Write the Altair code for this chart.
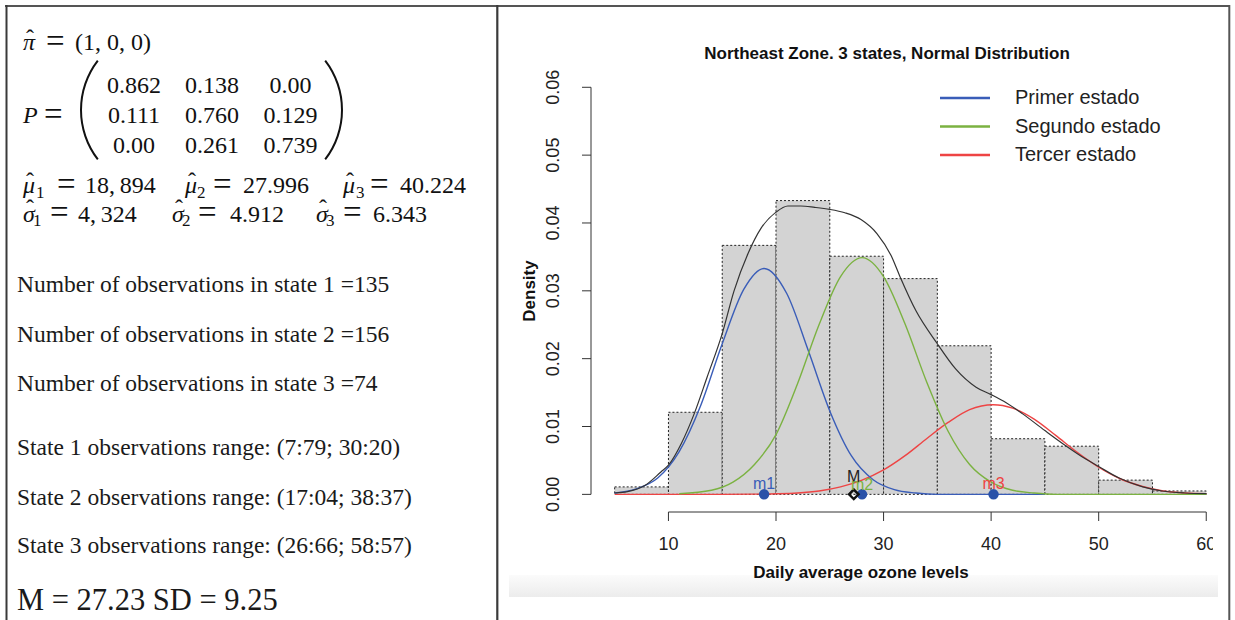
import altair as alt
import pandas as pd

# ---------------- data ----------------
pi_hat = [1, 0, 0]
P_rows = [["0.862", "0.138", "0.00"],
          ["0.111", "0.760", "0.129"],
          ["0.00", "0.261", "0.739"]]
mu_txt = ["18,\u2009894", "27.996", "40.224"]
sigma_txt = ["4,\u2009324", "4.912", "6.343"]
mu = [18.894, 27.996, 40.224]
n_obs = [135, 156, 74]
obs_ranges = ["(7:79; 30:20)", "(17:04; 38:37)", "(26:66; 58:57)"]
M_val, SD_val = 27.23, 9.25

bin_start = [5, 10, 15, 20, 25, 30, 35, 40, 45, 50, 55]
bin_end = [10, 15, 20, 25, 30, 35, 40, 45, 50, 55, 60]
density = [0.0011, 0.0121, 0.0367, 0.0433, 0.0351, 0.0318, 0.0219, 0.0082, 0.0071, 0.0021, 0.0005]

kde_x = [5.0, 6.2, 7.8, 9.3, 10.0, 11.2, 12.4, 13.6, 15.0, 16.1, 17.4, 18.6, 20.0, 21.1, 22.3,
         23.6, 25.0, 26.4, 27.9, 29.4, 30.7, 31.5, 33.0, 35.0, 36.7, 38.6, 40.0, 41.4, 42.9,
         45.0, 47.0, 48.8, 50.0, 51.9, 54.1, 55.9, 58.0, 60.0]
kde_y = [0.0002, 0.0004, 0.0013, 0.0033, 0.0043, 0.0075, 0.0119, 0.0173, 0.0237, 0.0300, 0.0355,
         0.0392, 0.0416, 0.0425, 0.0425, 0.0423, 0.0420, 0.0415, 0.0405, 0.0384, 0.0352, 0.0322,
         0.0271, 0.0222, 0.0185, 0.0158, 0.0147, 0.0135, 0.0119, 0.0094, 0.0071, 0.0052, 0.0041,
         0.0024, 0.0011, 0.0005, 0.0002, 0.0001]

s1_x = [5, 7, 9, 11, 13, 15, 17, 18.9, 21, 23, 25, 27, 29, 31, 33, 35, 40, 45]
s1_y = [0.0002, 0.0008, 0.0024, 0.0063, 0.0131, 0.0222, 0.0302, 0.0333, 0.0296, 0.0212, 0.0123,
        0.0057, 0.0022, 0.0007, 0.0002, 0.0000, 0.0, 0.0]
s2_x = [11, 14, 16, 18, 20, 22, 24, 26, 28, 30, 32, 34, 36, 38, 40, 42, 44, 46, 50, 60]
s2_y = [0.0001, 0.0006, 0.0018, 0.0044, 0.0088, 0.0163, 0.0250, 0.0321, 0.0349, 0.0321, 0.0251,
        0.0166, 0.0093, 0.0044, 0.0018, 0.0006, 0.0002, 0.0, 0.0, 0.0]
s3_x = [5, 10, 15, 18, 20, 22, 24, 26, 28, 30, 32, 34, 36, 38, 40.2, 42, 44, 46, 48, 50, 52, 54,
        56, 58, 60]
s3_y = [0.0, 0.0, 0.0, 0.00003, 0.00008, 0.0002, 0.0005, 0.0011, 0.0021, 0.0036, 0.0057, 0.0082,
        0.0106, 0.0125, 0.0132, 0.0127, 0.0111, 0.0087, 0.0062, 0.0040, 0.0023, 0.0012, 0.0005,
        0.0002, 0.0001]

legend_labels = ["Primer estado", "Segundo estado", "Tercer estado"]
mean_labels = ["m1", "m2", "m3"]
x_ticks = [10, 20, 30, 40, 50, 60]
y_ticks = [0, 0.01, 0.02, 0.03, 0.04, 0.05, 0.06]

# ---------------- layout / style ----------------
OX, OY = 591, 71          # page position of plot-area origin
W, H = 626, 441
XS = alt.Scale(domain=[2.8, 61.0], nice=False, zero=False)
YS = alt.Scale(domain=[-0.0026, 0.0624], nice=False, zero=False)
SERIF = "Liberation Serif"
SANS = "Liberation Sans"
BLUE, GREEN, RED, PT = "#3A5DB8", "#7BB241", "#EE4444", "#2A52A8"
INK = "#111111"
AXC = "#333333"


def X(f):
    return alt.X(f, scale=XS, axis=None)


def Y(f):
    return alt.Y(f, scale=YS, axis=None)


def txt(s, px, py, size, font=SERIF, style="normal", weight="normal", align="left",
        baseline="alphabetic", color=INK, angle=0):
    mk = dict(font=font, fontSize=size, fontStyle=style, fontWeight=weight, align=align,
              baseline=baseline, color=color)
    if angle:
        mk["angle"] = angle
    return alt.Chart(pd.DataFrame({"t": [s]})).mark_text(**mk).encode(
        text="t:N", x=alt.value(px - OX), y=alt.value(py - OY))


def eq(px, py):
    # wide, thin equals sign as in the TeX rendering
    return txt("=", px, py + 1.5, 33)


def prule(x1, y1, x2, y2, color, width):
    return alt.Chart(pd.DataFrame({"k": [0]})).mark_rule(color=color, strokeWidth=width).encode(
        x=alt.value(x1 - OX), x2=alt.value(x2 - OX), y=alt.value(y1 - OY), y2=alt.value(y2 - OY))


def paren(cx, cy, th0, th1):
    return alt.Chart(pd.DataFrame({"k": [0]})).mark_arc(
        radius=82, radius2=80, theta=th0, theta2=th1, color=INK).encode(
        x=alt.value(cx - OX), y=alt.value(cy - OY))


layers = []

# background band at bottom of the R screenshot
layers.append(alt.Chart(pd.DataFrame({"k": [0]})).mark_rect(
    color=alt.Gradient(gradient="linear",
                       stops=[alt.GradientStop(color="#fbfbfb", offset=0),
                              alt.GradientStop(color="#ececec", offset=1)],
                       x1=0, x2=0, y1=0, y2=1)).encode(
    x=alt.value(509 - OX), x2=alt.value(1218 - OX), y=alt.value(575 - OY), y2=alt.value(597 - OY)))

# table borders
BC = "#3a3a3a"
layers += [prule(5, 6, 1230, 6, "#555555", 2),
           prule(6.5, 5, 6.5, 620, BC, 2),
           prule(497.3, 5, 497.3, 620, BC, 2.2),
           prule(1229.3, 5, 1229.3, 620, "#555555", 2)]

# ---------------- left panel ----------------
layers += [txt("\u03c0", 23, 50, 24, style="italic"),
           txt("\u02c6", 30, 46, 24, align="center"),
           eq(46, 50),
           txt("(" + ", ".join(str(v) for v in pi_hat) + ")", 75, 50, 24)]
layers += [txt("P", 23, 123.3, 24, style="italic"),
           eq(44, 123.3)]
col_c = [134, 212, 290.5]
row_b = [92.7, 123.3, 153.3]
for r, row in enumerate(P_rows):
    for c, val in enumerate(row):
        layers.append(txt(val, col_c[c], row_b[r], 24, align="center"))
layers += [paren(162, 110, 4.056, 5.368), paren(261, 110, 0.915, 2.227)]

mu_pos = [(23, 36, 57, 85), (185, 197, 213, 243), (343, 356, 370, 400)]
sg_pos = [(23, 33, 50, 78), (172, 182, 198, 230), (316, 326, 343, 373)]
for i in range(3):
    sx, bx, ex, nx = mu_pos[i]
    layers += [txt("\u03bc", sx, 193.3, 24, style="italic"),
               txt("\u02c6", sx + 7, 189, 24, align="center"),
               txt(str(i + 1), bx, 197.5, 17),
               eq(ex, 193.3),
               txt(mu_txt[i], nx, 193.3, 24)]
    sx, bx, ex, nx = sg_pos[i]
    layers += [txt("\u03c3", sx, 221.7, 24, style="italic"),
               txt("\u02c6", sx + 7, 216, 24, align="center"),
               txt(str(i + 1), bx, 226, 17),
               eq(ex, 221.7),
               txt(sigma_txt[i], nx, 221.7, 24)]

LT = "#1a1a1a"
for i, yb in enumerate([291.7, 341.7, 390.7]):
    layers.append(txt(f"Number of observations in state {i + 1} ={n_obs[i]}", 17, yb, 23.5, color=LT))
for i, yb in enumerate([455, 505, 553.3]):
    layers.append(txt(f"State {i + 1} observations range: {obs_ranges[i]}", 17, yb, 23.5, color=LT))
layers.append(txt(f"M = {M_val} SD = {SD_val}", 17, 610, 30.5, color=LT))

# ---------------- right panel: R plot ----------------
hist_df = pd.DataFrame({"start": bin_start, "end": bin_end, "density": density})
layers.append(alt.Chart(hist_df).mark_rect(fill="#D3D3D3", stroke="#222222", strokeDash=[2, 2],
                                           strokeWidth=1).encode(
    x=X("start:Q"), x2="end:Q", y=Y("density:Q"), y2=alt.datum(0)))


def curve(xs, ys, color, width):
    return alt.Chart(pd.DataFrame({"x": xs, "y": ys})).mark_line(
        color=color, strokeWidth=width, interpolate="monotone").encode(x=X("x:Q"), y=Y("y:Q"))


layers += [curve(s3_x, s3_y, RED, 1.4), curve(s1_x, s1_y, BLUE, 1.4),
           curve(s2_x, s2_y, GREEN, 1.4), curve(kde_x, kde_y, "#333333", 1.2)]

# R-style axes drawn from the tick arrays through the scales
xt = pd.DataFrame({"v": x_ticks})
yt = pd.DataFrame({"v": y_ticks})
layers += [
    alt.Chart(pd.DataFrame({"a": [x_ticks[0]], "b": [x_ticks[-1]]})).mark_rule(
        color=AXC, strokeWidth=1).encode(x=X("a:Q"), x2="b:Q", y=alt.value(H)),
    alt.Chart(xt).mark_rule(color=AXC, strokeWidth=1).encode(
        x=X("v:Q"), y=alt.value(H), y2=alt.value(H + 9)),
    alt.Chart(xt).mark_text(font=SANS, fontSize=18, color="#222222", baseline="middle",
                            align="center").encode(
        x=X("v:Q"), y=alt.value(545 - OY), text=alt.Text("v:Q", format="d")),
    alt.Chart(pd.DataFrame({"a": [y_ticks[0]], "b": [y_ticks[-1]]})).mark_rule(
        color=AXC, strokeWidth=1).encode(y=Y("a:Q"), y2="b:Q", x=alt.value(0)),
    alt.Chart(yt).mark_rule(color=AXC, strokeWidth=1).encode(
        y=Y("v:Q"), x=alt.value(0), x2=alt.value(-9)),
    alt.Chart(yt).mark_text(font=SANS, fontSize=18, color="#222222", baseline="middle",
                            align="center", angle=270).encode(
        y=Y("v:Q"), x=alt.value(554 - OX), text=alt.Text("v:Q", format=".2f")),
]

# means
pts = pd.DataFrame({"x": mu, "y": [0, 0, 0]})
layers.append(alt.Chart(pts).mark_circle(size=110, color=PT, opacity=1).encode(
    x=X("x:Q"), y=Y("y:Q")))
layers.append(alt.Chart(pd.DataFrame({"x": [M_val], "y": [0]})).mark_point(
    shape="diamond", size=90, filled=False, stroke="#111111", strokeWidth=2.5, opacity=1).encode(
    x=X("x:Q"), y=Y("y:Q")))
for lab, xv, col, dy in [("M", M_val, "#222222", -12), (mean_labels[0], mu[0], BLUE, -5.5),
                         (mean_labels[1], mu[1], GREEN, -4.5), (mean_labels[2], mu[2], RED, -5.5)]:
    layers.append(alt.Chart(pd.DataFrame({"x": [xv], "y": [0], "t": [lab]})).mark_text(
        font=SANS, fontSize=16, color=col, dy=dy, baseline="alphabetic", align="center").encode(
        x=X("x:Q"), y=Y("y:Q"), text="t:N"))

# screenshot edge clips the last tick label
layers.append(alt.Chart(pd.DataFrame({"k": [0]})).mark_rect(color="white").encode(
    x=alt.value(1213 - OX), x2=alt.value(1227 - OX), y=alt.value(530 - OY), y2=alt.value(562 - OY)))

# titles
layers += [txt("Northeast Zone. 3 states, Normal Distribution", 887, 54, 17, font=SANS,
               weight="bold", align="center", baseline="middle"),
           txt("Density", 530, 291, 17, font=SANS, weight="bold", align="center",
               baseline="middle", angle=270),
           txt("Daily average ozone levels", 861, 573, 17, font=SANS, weight="bold",
               align="center", baseline="middle")]

# legend
for i, (lab, col) in enumerate(zip(legend_labels, [BLUE, GREEN, RED])):
    yy = 98 + i * 28.5
    layers += [prule(940, yy, 990, yy, col, 2.5),
               txt(lab, 1015, yy, 20, font=SANS, baseline="middle", color="#222222")]

chart = alt.layer(*layers).properties(
    width=W, height=H,
    padding={"left": OX, "top": OY, "right": 1235 - OX - W, "bottom": 620 - OY - H},
    autosize=alt.AutoSizeParams(type="none"),
    background="white",
).configure_view(stroke=None)

chart.save("out.html", embed_options={"renderer": "svg", "actions": False})
